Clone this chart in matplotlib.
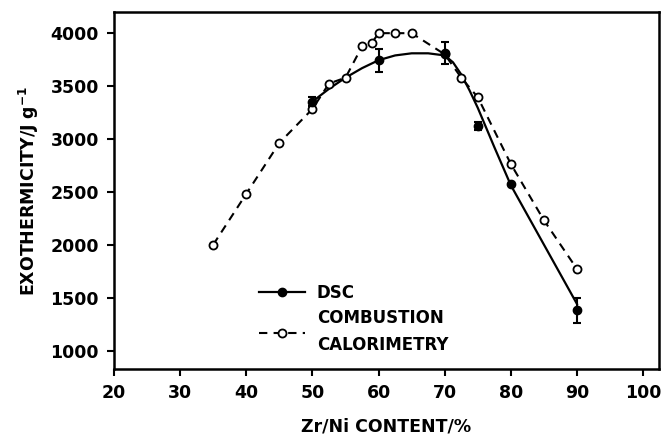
import matplotlib
matplotlib.use("Agg")
import matplotlib.pyplot as plt
from matplotlib.lines import Line2D

plt.rcParams['font.family'] = ['DejaVu Sans']
plt.rcParams['font.weight'] = 'bold'

# Combustion calorimetry (open circles, dashed)
comb_x = [35, 40, 45, 50, 52.5, 55, 57.5, 59, 60, 62.5, 65, 70, 72.5, 75, 80, 85, 90]
comb_y = [2000, 2480, 2960, 3280, 3520, 3575, 3870, 3905, 3995, 3995, 3995, 3795, 3575, 3390, 2760, 2230, 1770]

# DSC (filled circles with error bars)
dsc_x = [50, 60, 70, 75, 80, 90]
dsc_y = [3350, 3740, 3805, 3120, 2575, 1380]
dsc_err = [40, 110, 105, 40, 0, 120]

# DSC fitted curve (solid)
fit_x = [50, 52.5, 55, 57.5, 60, 62.5, 65, 67.5, 70, 71.25, 72.5, 73.75, 75, 76.25,
         77.5, 78.75, 80, 82.5, 85, 87.5, 90]
fit_y = [3350, 3470, 3575, 3665, 3740, 3785, 3805, 3805, 3785, 3720, 3605, 3455, 3290, 3105,
         2920, 2740, 2560, 2280, 2000, 1720, 1440]

x_ticks = [20, 30, 40, 50, 60, 70, 80, 90, 100]
y_ticks = [1000, 1500, 2000, 2500, 3000, 3500, 4000]

fig = plt.figure(figsize=(6.63, 4.37), dpi=100)
ax = fig.add_axes([0.172, 0.1556, 0.822, 0.8158])

ax.plot(fit_x, fit_y, color='black', lw=1.6, zorder=2)
ax.plot(comb_x, comb_y, color='black', lw=1.5, dashes=(4, 3),
        marker='o', markersize=5.8, markerfacecolor='white', markeredgewidth=1.3,
        markeredgecolor='black', zorder=3)
ax.errorbar(dsc_x, dsc_y, yerr=dsc_err, fmt='o', color='black', markersize=6,
            capsize=3, elinewidth=1.5, capthick=1.5, zorder=4)

ax.set_xlim(20, 102.4)
ax.set_ylim(827, 4190)
ax.set_xticks(x_ticks)
ax.set_yticks(y_ticks)
ax.tick_params(direction='out', length=5, width=1.5, labelsize=12.5, pad=6)
for lab in ax.get_xticklabels() + ax.get_yticklabels():
    lab.set_fontweight('bold')
for sp in ax.spines.values():
    sp.set_linewidth(1.8)

ax.set_xlabel('Zr/Ni CONTENT/%', fontsize=12.5, fontweight='bold', labelpad=11)
ax.set_ylabel('EXOTHERMICITY/J g$^{\\mathbf{-1}}$', fontsize=12.5, fontweight='bold', labelpad=7)

h1 = Line2D([], [], color='black', lw=1.6, marker='o', markersize=6)
h2 = Line2D([], [], color='black', lw=1.5, dashes=(4, 3), marker='o', markersize=5.8,
            markerfacecolor='white', markeredgewidth=1.3)
leg = ax.legend([h1, h2], ['DSC', 'COMBUSTION\nCALORIMETRY'], loc='upper left',
                bbox_to_anchor=(0.25, 0.262), frameon=False,
                handlelength=2.8, handletextpad=0.7, borderpad=0, labelspacing=0.45,
                prop={'weight': 'bold', 'size': 12})
leg.get_texts()[1].set_linespacing(1.6)

fig.savefig('out.png', dpi=100)
